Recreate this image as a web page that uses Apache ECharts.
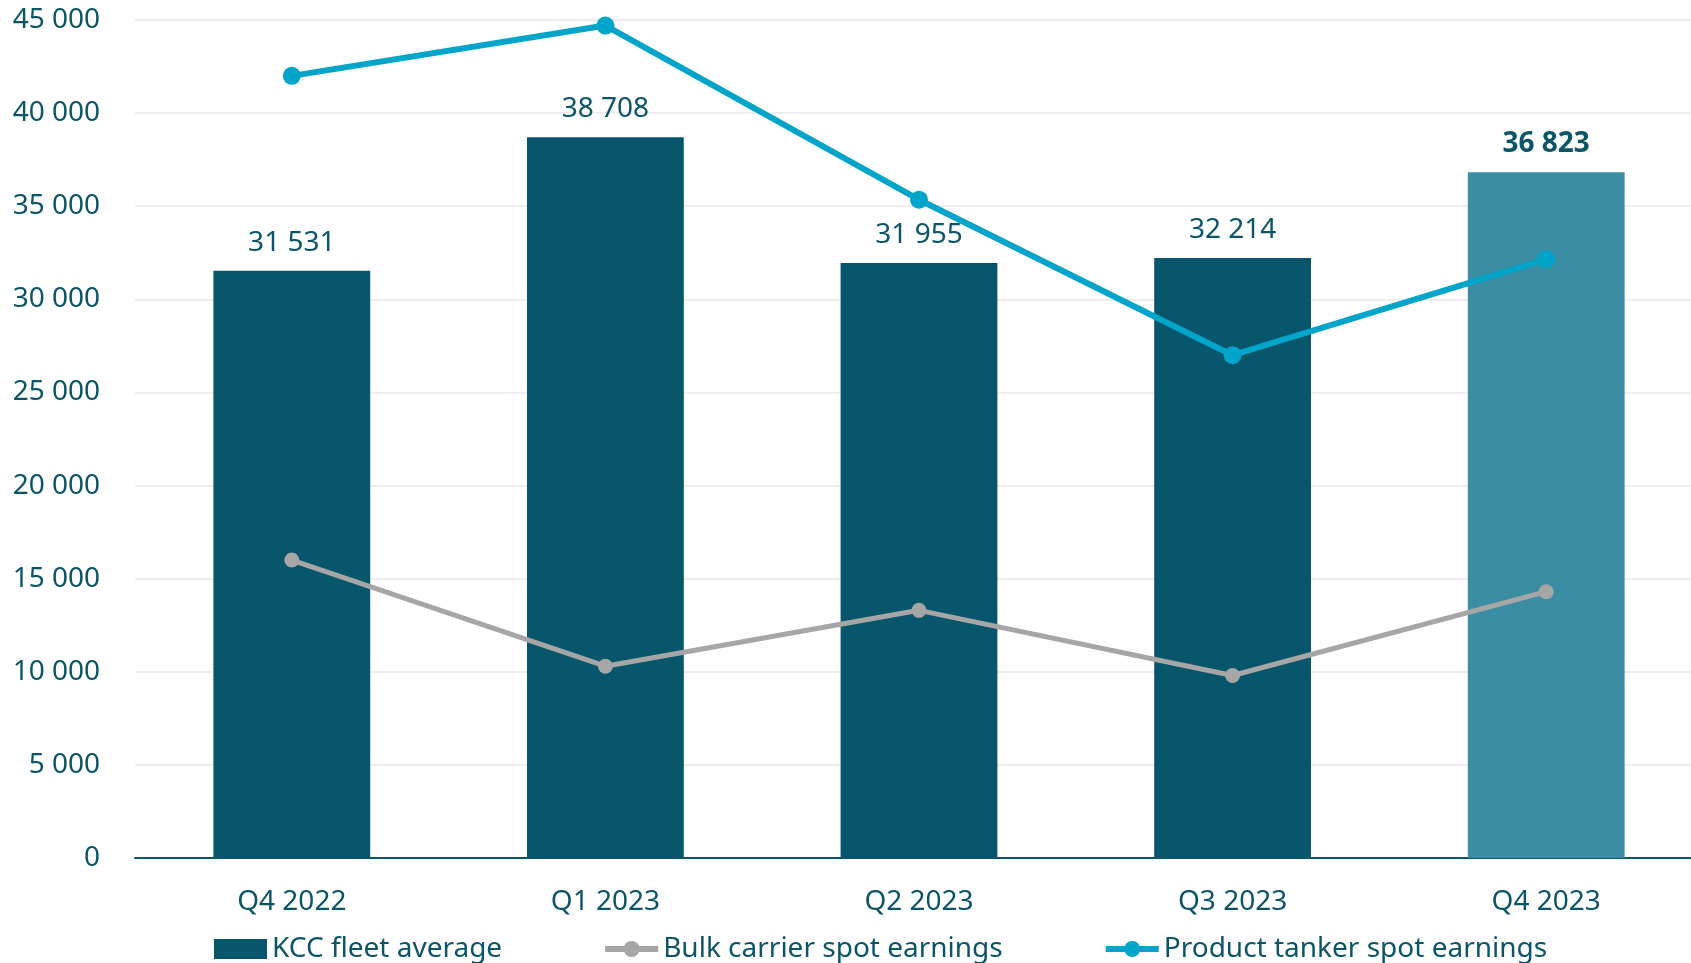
<!DOCTYPE html>
<html>
<head>
<meta charset="utf-8">
<title>KCC earnings</title>
<script src="https://cdn.jsdelivr.net/npm/echarts@6/dist/echarts.min.js"></script>
<style>
  html, body { margin: 0; padding: 0; background: #ffffff; }
  #chart { width: 1691px; height: 963px; }
</style>
</head>
<body>
<div id="chart"></div>
<script>
// Quarterly earnings (USD/day)
const quarters = ['Q4 2022', 'Q1 2023', 'Q2 2023', 'Q3 2023', 'Q4 2023'];
const kccFleetAverage = [31531, 38708, 31955, 32214, 36823];
const bulkCarrierSpot = [16000, 10300, 13300, 9800, 14300];
const productTankerSpot = [42000, 44700, 35350, 27000, 32150];
const yTicks = { min: 0, max: 45000, interval: 5000 };

const textColor = '#0b5567';
const barColor = '#07566b';
const latestBarColor = '#3a8da2';
const bulkColor = '#a6a6a6';
const tankerColor = '#00a5c9';
const fontFamily = '"Noto Sans", "Open Sans", sans-serif';

// Thousands separated by a space: 31531 -> "31 531"
function fmt(v) {
  return String(Math.round(v)).replace(/\B(?=(\d{3})+(?!\d))/g, ' ');
}

const lastIdx = kccFleetAverage.length - 1;
const barData = kccFleetAverage.map((v, i) => i === lastIdx
  ? { value: v, itemStyle: { color: latestBarColor }, label: { fontWeight: 'bold' } }
  : { value: v });

const chart = echarts.init(document.getElementById('chart'), null, { renderer: 'canvas' });
chart.setOption({
  animation: false,
  backgroundColor: '#ffffff',
  textStyle: { fontFamily: fontFamily, color: textColor },
  // The plot area runs a little past the right edge of the canvas
  grid: { left: 135, top: 20, width: 1568, bottom: 105, containLabel: false, outerBoundsMode: 'none' },
  legend: {
    left: 209,
    top: 930,
    itemWidth: 53,
    itemHeight: 20,
    itemGap: 100,
    textStyle: { fontFamily: fontFamily, fontSize: 28, color: textColor },
    data: [
      { name: 'KCC fleet average', icon: 'rect', itemStyle: { color: barColor } },
      { name: 'Bulk carrier spot earnings', lineStyle: { width: 6, color: bulkColor } },
      { name: 'Product tanker spot earnings', lineStyle: { width: 6, color: tankerColor } }
    ]
  },
  xAxis: {
    type: 'category',
    data: quarters,
    axisLine: { lineStyle: { color: textColor, width: 2 } },
    axisTick: { show: false },
    axisLabel: { fontFamily: fontFamily, fontSize: 28, color: textColor, margin: 30 }
  },
  yAxis: {
    type: 'value',
    min: yTicks.min,
    max: yTicks.max,
    interval: yTicks.interval,
    axisLine: { show: false },
    axisTick: { show: false },
    splitLine: { lineStyle: { color: '#eeeeee', width: 2 } },
    axisLabel: {
      fontFamily: fontFamily, fontSize: 28, color: textColor, margin: 35,
      formatter: fmt
    }
  },
  series: [
    {
      name: 'KCC fleet average',
      type: 'bar',
      data: barData,
      barWidth: '50%',
      itemStyle: { color: barColor },
      label: {
        show: true,
        position: 'top',
        distance: 14,
        fontFamily: fontFamily,
        fontSize: 28,
        color: textColor,
        formatter: p => fmt(p.value)
      },
      z: 1
    },
    {
      name: 'Bulk carrier spot earnings',
      type: 'line',
      data: bulkCarrierSpot,
      symbol: 'circle',
      symbolSize: 15,
      lineStyle: { color: bulkColor, width: 5 },
      itemStyle: { color: bulkColor },
      z: 3
    },
    {
      name: 'Product tanker spot earnings',
      type: 'line',
      data: productTankerSpot,
      symbol: 'circle',
      symbolSize: 18,
      lineStyle: { color: tankerColor, width: 6 },
      itemStyle: { color: tankerColor },
      z: 4
    }
  ]
});
</script>
</body>
</html>
